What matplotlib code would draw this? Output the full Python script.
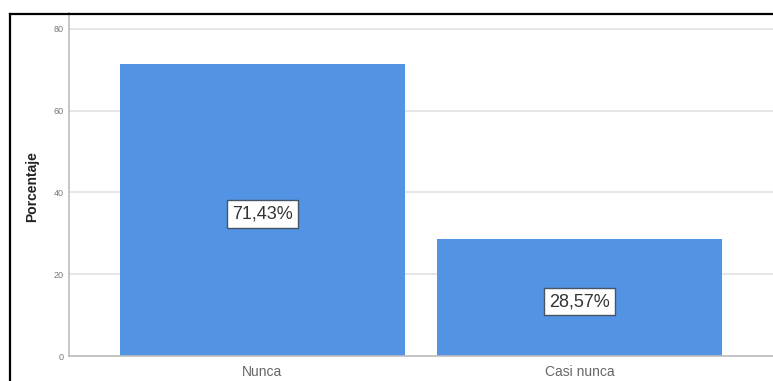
import matplotlib
matplotlib.use("Agg")
import matplotlib.pyplot as plt
from matplotlib.lines import Line2D

categories = ["Nunca", "Casi nunca"]
percentages = [71.43, 28.57]
value_labels = ["71,43%", "28,57%"]
y_ticks = [0, 20, 40, 60, 80]

plt.rcParams["font.family"] = ["Liberation Sans", "DejaVu Sans"]

W, H = 773, 381
fig = plt.figure(figsize=(W / 100, H / 100), dpi=100)
ax = fig.add_axes([69 / W, 25 / H, 1 - 69 / W, 343 / H])

x = range(len(categories))
ax.bar(x, percentages, width=0.9, color="#5393e3", zorder=2)

ax.set_xlim(-0.61, 1.61)
ax.set_ylim(0, 83.9)
ax.set_yticks(y_ticks)
ax.set_yticklabels([str(t) for t in y_ticks], fontsize=6.5, color="#777777")
ax.set_xticks(list(x))
ax.set_xticklabels(categories, fontsize=10, color="#666666")
ax.tick_params(axis="y", length=0, pad=3.6)
ax.tick_params(axis="x", length=0, pad=6.5)

ax.yaxis.grid(True, color="#e2e2e2", linewidth=1.2, zorder=0)
ax.set_axisbelow(True)
for side in ("top", "right"):
    ax.spines[side].set_visible(False)
for side in ("left", "bottom"):
    ax.spines[side].set_color("#bdbdbd")
    ax.spines[side].set_linewidth(1.2)

fig.text(32 / W, 1 - 187 / H, "Porcentaje", rotation=90, ha="center",
         va="center", fontsize=10, fontweight="bold", color="#222222")

for xi, val, lab in zip(x, percentages, value_labels):
    ax.text(xi, val / 2 - 0.5, lab, ha="center", va="center_baseline",
            fontsize=13, color="#333333", zorder=3,
            bbox=dict(boxstyle="square,pad=0.28", facecolor="white",
                      edgecolor="#445566", linewidth=1.0))

# outer frame (left and top edges)
fig.add_artist(Line2D([9.5 / W, 9.5 / W], [0, 1 - 13.5 / H],
                      transform=fig.transFigure, color="black", linewidth=1.6))
fig.add_artist(Line2D([9.5 / W, 1], [1 - 13.5 / H, 1 - 13.5 / H],
                      transform=fig.transFigure, color="black", linewidth=1.6))

fig.savefig("out.png", dpi=100)
